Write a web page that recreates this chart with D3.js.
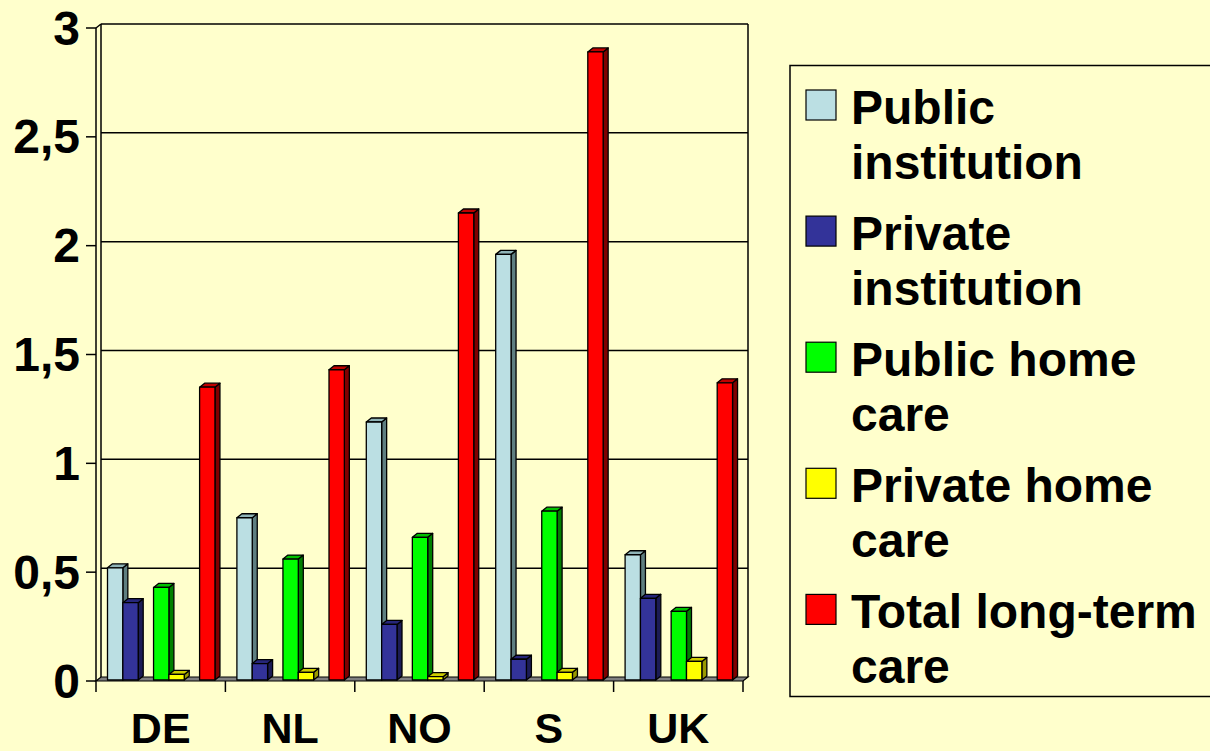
<!DOCTYPE html>
<html>
<head>
<meta charset="utf-8">
<script src="https://cdn.jsdelivr.net/npm/d3@7"></script>
<style>
  html, body { margin: 0; padding: 0; background: #FFFFCC; }
  svg { display: block; font-family: Arial, "Liberation Sans", sans-serif; font-weight: bold; }
</style>
</head>
<body>
<div class="chart"></div>
<script>
// data
const categories = ['DE', 'NL', 'NO', 'S', 'UK'];
const seriesNames = ['Public institution', 'Private institution', 'Public home care', 'Private home care', 'Total long-term care'];
const legendLines = [['Public', 'institution'], ['Private', 'institution'], ['Public home', 'care'], ['Private home', 'care'], ['Total long-term', 'care']];
const publicInst   = [0.52, 0.75, 1.19, 1.96, 0.58];
const privateInst  = [0.36, 0.08, 0.26, 0.10, 0.38];
const publicHome   = [0.43, 0.56, 0.66, 0.78, 0.32];
const privateHome  = [0.03, 0.04, 0.02, 0.04, 0.09];
const totalLtc     = [1.35, 1.43, 2.15, 2.89, 1.37];
const yTicks = [0, 0.5, 1, 1.5, 2, 2.5, 3];
const yTickLabels = ['0', '0,5', '1', '1,5', '2', '2,5', '3'];

const seriesValues = [publicInst, privateInst, publicHome, privateHome, totalLtc];
const colors = ['#BBDFE3', '#333399', '#00FF00', '#FFFF00', '#FF0000'];
const sideColors = ['#5E7E80', '#1C1C55', '#008000', '#999900', '#800000'];
const topColors = ['#8FB3B7', '#26267A', '#00C000', '#CCCC00', '#C00000'];
const slots = [0, 1, 3, 4, 6]; // position of each series inside a category

const W = 1210, H = 751;
const dx = 5, dy = -4; // 3d depth offset

const svg = d3.select('.chart').append('svg')
  .attr('width', W).attr('height', H);

svg.append('rect').attr('width', W).attr('height', H).attr('fill', '#FFFFCC');

const y = d3.scaleLinear().domain([0, 3]).range([681, 28]);
const x0 = d3.scaleBand().domain(categories).range([96, 743]);
const x1 = d3.scaleBand().domain(d3.range(7)).range([11.5, 11.5 + 7 * 15.35]);

const left = x0.range()[0], right = x0.range()[1];

// back wall grid lines
const wall = svg.append('g').attr('stroke', '#000').attr('stroke-width', 1.5).attr('fill', 'none');
wall.selectAll('line.grid')
  .data(yTicks.slice(1))
  .enter().append('line')
  .attr('x1', left + dx).attr('x2', right + dx)
  .attr('y1', d => y(d) + dy).attr('y2', d => y(d) + dy);
wall.append('line')
  .attr('x1', left + dx).attr('x2', left + dx)
  .attr('y1', y(0) + dy).attr('y2', y(3) + dy);
wall.append('line')
  .attr('x1', right + dx).attr('x2', right + dx)
  .attr('y1', y(0) + dy).attr('y2', y(3) + dy);
wall.append('line')
  .attr('x1', left).attr('x2', left + dx)
  .attr('y1', y(3)).attr('y2', y(3) + dy);

// floor
svg.append('polygon')
  .attr('points', [[left, y(0)], [right, y(0)], [right + dx, y(0) + dy], [left + dx, y(0) + dy]].join(' '))
  .attr('fill', '#808080').attr('stroke', '#000').attr('stroke-width', 1.2);

// front value axis
const yAxis = svg.append('g').attr('stroke', '#000').attr('stroke-width', 1.5);
yAxis.append('line').attr('x1', left).attr('x2', left).attr('y1', y(0)).attr('y2', y(3));
yAxis.selectAll('line.tick')
  .data(yTicks)
  .enter().append('line')
  .attr('x1', left - 10).attr('x2', left)
  .attr('y1', d => y(d)).attr('y2', d => y(d));

svg.selectAll('text.ylab')
  .data(yTicks)
  .enter().append('text')
  .attr('class', 'ylab')
  .attr('x', 80)
  .attr('y', d => y(d) + 16.5)
  .attr('text-anchor', 'end')
  .style('font-size', '48px')
  .text((d, i) => yTickLabels[i]);

// category ticks
svg.selectAll('line.xtick')
  .data(categories.map(c => x0(c)).concat([right]))
  .enter().append('line')
  .attr('x1', d => d).attr('x2', d => d)
  .attr('y1', y(0)).attr('y2', y(0) + 11)
  .attr('stroke', '#000').attr('stroke-width', 1.5);

svg.selectAll('text.xlab')
  .data(categories)
  .enter().append('text')
  .attr('x', d => x0(d) + x0.bandwidth() / 2)
  .attr('y', 743)
  .attr('text-anchor', 'middle')
  .style('font-size', '43px')
  .text(d => d);

// bars
const bw = x1.bandwidth();
const bars = [];
categories.forEach((c, ci) => {
  seriesValues.forEach((vals, si) => {
    bars.push({ cat: c, s: si, v: vals[ci] });
  });
});

const barG = svg.selectAll('g.bar')
  .data(bars)
  .enter().append('g')
  .attr('stroke', '#000').attr('stroke-width', 1.3).attr('stroke-linejoin', 'round');

barG.each(function (d) {
  const g = d3.select(this);
  const xl = x0(d.cat) + x1(slots[d.s]);
  const xr = xl + bw;
  const yt = y(d.v);
  const yb = y(0) - 1;
  g.append('polygon')
    .attr('points', [[xr, yt], [xr + dx, yt + dy], [xr + dx, yb + dy], [xr, yb]].join(' '))
    .attr('fill', sideColors[d.s]);
  g.append('polygon')
    .attr('points', [[xl, yt], [xl + dx, yt + dy], [xr + dx, yt + dy], [xr, yt]].join(' '))
    .attr('fill', topColors[d.s]);
  g.append('rect')
    .attr('x', xl).attr('y', yt)
    .attr('width', bw).attr('height', yb - yt)
    .attr('fill', colors[d.s]);
});

// legend
const legend = svg.append('g');
legend.append('rect')
  .attr('x', 790).attr('y', 65.5)
  .attr('width', 440).attr('height', 631)
  .attr('fill', 'none').attr('stroke', '#000').attr('stroke-width', 1.5);

const item = legend.selectAll('g.item')
  .data(seriesNames)
  .enter().append('g')
  .attr('transform', (d, i) => 'translate(0,' + (124 + i * 126.1) + ')');

item.append('rect')
  .attr('x', 806).attr('y', -34)
  .attr('width', 30).attr('height', 30)
  .attr('fill', (d, i) => colors[i])
  .attr('stroke', '#000').attr('stroke-width', 1.2);

item.append('text')
  .attr('x', 851)
  .style('font-size', '48px')
  .selectAll('tspan')
  .data((d, i) => legendLines[i])
  .enter().append('tspan')
  .attr('x', 851)
  .attr('dy', (d, j) => j === 0 ? 0 : 54.5)
  .text(d => d);
</script>
</body>
</html>
